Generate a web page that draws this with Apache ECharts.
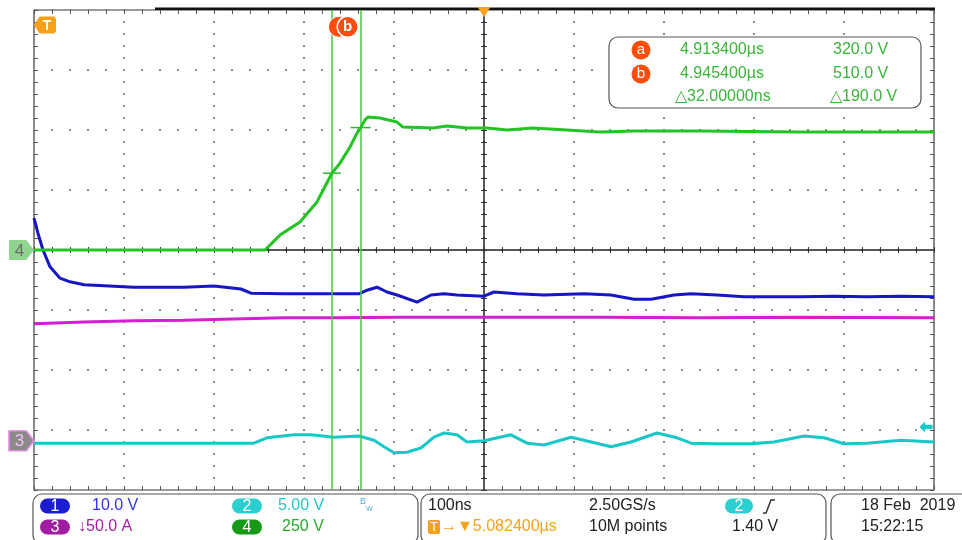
<!DOCTYPE html>
<html><head><meta charset="utf-8">
<script src="https://cdn.jsdelivr.net/npm/echarts@6/dist/echarts.min.js"></script>
<style>html,body{margin:0;padding:0;background:#fff}#c{width:962px;height:540px}</style>
</head><body><div id="c"></div>
<script>
// ---- acquisition settings ----
const centerTimeNs = 5082.4;          // time at screen centre
const cursorTimesNs = [4913.4, 4945.4];
const cursorVolts = [320.0, 510.0];
const ch4VoltsPerDiv = 250;
const ch3MarkerDiv = -3.18;
const ch2TrigLevelDiv = -2.95;
const channelLabels = ['1', '2', '3', '4'];
const channelScales = ['10.0 V', '5.00 V', '\u219350.0 A', '250 V'];
const timebaseText = ['100ns', '2.50GS/s', '\u2192\u25BC5.082400\u00B5s', '10M points', '1.40 V'];
const dateText = ['18 Feb  2019', '15:22:15'];

// ---- traces (time in ns relative to screen centre) ----
const ch4Times = [-500,-400,-300,-243.3,-226.7,-204.4,-185.6,-169,-160,-148.9,-141.1,-137,-132.2,-128.9,-115.6,-96.7,-90,-56.7,-41.1,-18.9,3.3,25.6,54.4,92.2,128.9,165.6,240,351.1,500];
const ch4Volts = [0,0,0,0,62,117,200,320,362,429,487,510,542,554,550,533,512,508,517,508,508,500,508,500,492,496,496,492,492];

const ch1Times = [-500,-495.6,-490,-482.2,-471.1,-460,-444.4,-388.9,-333.3,-300,-270,-258.9,-222.2,-166.7,-138.9,-130,-118.9,-107.8,-96.7,-74.4,-58.9,-44.4,-30,0,11.1,36.7,66.7,111.1,141.1,166.7,185.6,211.1,230,258.9,288.9,314.4,352.2,388.9,425.6,463.3,500];
const ch1Div = [0.53,0.28,0,-0.28,-0.47,-0.53,-0.58,-0.62,-0.62,-0.6,-0.65,-0.72,-0.73,-0.73,-0.73,-0.67,-0.62,-0.7,-0.75,-0.87,-0.75,-0.73,-0.75,-0.77,-0.7,-0.73,-0.75,-0.73,-0.75,-0.82,-0.82,-0.75,-0.73,-0.75,-0.78,-0.78,-0.78,-0.77,-0.78,-0.77,-0.78];

const ch2Times = [-500,-388.9,-277.8,-255.6,-241.1,-211.1,-192.2,-166.7,-138.9,-122.2,-111.1,-100,-85.6,-70,-55.6,-44.4,-30,-18.9,0,30,47.8,66.7,96.7,111.1,141.1,163.3,192.2,214.4,230,258.9,296.7,322.2,355.6,377.8,400,425.6,463.3,500];
const ch2Div = [-3.22,-3.22,-3.22,-3.22,-3.13,-3.08,-3.08,-3.12,-3.1,-3.17,-3.28,-3.38,-3.37,-3.3,-3.12,-3.05,-3.08,-3.2,-3.18,-3.08,-3.22,-3.25,-3.12,-3.17,-3.28,-3.2,-3.05,-3.13,-3.22,-3.23,-3.23,-3.2,-3.1,-3.13,-3.23,-3.22,-3.17,-3.2];

const ch3Times = [-500,-444.4,-388.9,-333.3,-277.8,-222.2,-166.7,-92.2,0,128.9,240,351.1,500];
const ch3Div = [-1.23,-1.2,-1.18,-1.17,-1.15,-1.13,-1.13,-1.12,-1.12,-1.12,-1.13,-1.12,-1.13];

const pairs = (ts, vs, f) => ts.map((t, i) => [t, f ? f(vs[i]) : vs[i]]);
const tA = cursorTimesNs[0] - centerTimeNs;
const tB = cursorTimesNs[1] - centerTimeNs;

const FONT = '"Liberation Sans", Arial, sans-serif';
const hidden = {axisLabel:{show:false}, splitLine:{show:false}};
const xBase = {type:'value', min:-500, max:500, ...hidden};
const yBase = {type:'value', min:-4, max:4, ...hidden};
const tickCol = '#555';

const xAxis = [
  {...xBase, interval:100, axisLine:{show:false, onZero:false}, axisTick:{show:false},
   splitLine:{show:true, lineStyle:{color:'#8e8e8e', width:2, type:[2,10], dashOffset:1}}},
  {...xBase, interval:20, axisLine:{show:true, onZero:true, onZeroAxisIndex:0, lineStyle:{color:'#222', width:1.5}},
   axisTick:{show:true, inside:true, length:3, lineStyle:{color:'#333'}}},
  {...xBase, interval:20, axisLine:{show:false, onZero:true, onZeroAxisIndex:0},
   axisTick:{show:true, inside:false, length:3, lineStyle:{color:'#333'}}},
  {...xBase, position:'top', interval:20, axisLine:{show:false, onZero:false},
   axisTick:{show:true, inside:true, length:4, lineStyle:{color:tickCol}}},
  {...xBase, position:'bottom', interval:20, axisLine:{show:false, onZero:false},
   axisTick:{show:true, inside:true, length:4, lineStyle:{color:tickCol}}}
];
const yAxis = [
  {...yBase, interval:1, axisLine:{show:false, onZero:false}, axisTick:{show:false},
   splitLine:{show:true, lineStyle:{color:'#8e8e8e', width:2, type:[2,16], dashOffset:1}}},
  {...yBase, interval:0.2, axisLine:{show:true, onZero:true, onZeroAxisIndex:0, lineStyle:{color:'#222', width:1.5}},
   axisTick:{show:true, inside:true, length:3, lineStyle:{color:'#333'}}},
  {...yBase, interval:0.2, axisLine:{show:false, onZero:true, onZeroAxisIndex:0},
   axisTick:{show:true, inside:false, length:3, lineStyle:{color:'#333'}}},
  {...yBase, position:'left', interval:0.2, axisLine:{show:false, onZero:false},
   axisTick:{show:true, inside:true, length:4, lineStyle:{color:tickCol}}},
  {...yBase, position:'right', interval:0.2, axisLine:{show:false, onZero:false},
   axisTick:{show:true, inside:true, length:4, lineStyle:{color:tickCol}}}
];

const C = {g:'#22c322', b:'#1616c4', m:'#d41ed4', c:'#18c8c8', o:'#f7a11a', r:'#ff4d0d', txtG:'#3ab53a'};

function trace(name, data, color, z, extra) {
  return Object.assign({name, type:'line', data, xAxisIndex:0, yAxisIndex:0, showSymbol:false,
    symbol:'none', z, lineStyle:{color, width:3}, itemStyle:{color}, silent:true}, extra || {});
}
const noLabel = {show:false};

const series = [
  trace('CH2', pairs(ch2Times, ch2Div), C.c, 2, {markPoint:{silent:true, data:[
    {coord:[500, ch2TrigLevelDiv], symbol:'path://M0,5 L6,0 L6,3 L14,3 L14,7 L6,7 L6,10 Z',
     symbolSize:[13,11], symbolOffset:[-8,0], itemStyle:{color:C.c}, label:noLabel}
  ]}}),
  trace('CH3', pairs(ch3Times, ch3Div), C.m, 3, {markPoint:{silent:true, data:[
    {coord:[-500, ch3MarkerDiv], symbol:'path://M0,0 L18,0 L26,10 L18,20 L0,20 Z', symbolSize:[25,20],
     symbolOffset:[-12.5,0], itemStyle:{color:'#8a8a8a', borderColor:'#e58ae5', borderWidth:1.5},
     label:{show:true, formatter:'3', color:'#f0c0f0', fontSize:17, fontFamily:FONT, offset:[-2,1]}}
  ]}}),
  trace('CH1', pairs(ch1Times, ch1Div), C.b, 4),
  trace('CH4', pairs(ch4Times, ch4Volts, v => v / ch4VoltsPerDiv), C.g, 5, {
    markLine:{silent:true, symbol:['none','none'], animation:false, label:noLabel,
      lineStyle:{color:'#45c845', width:1.5, type:'solid'},
      data:[{xAxis:tA}, {xAxis:tB}]},
    markPoint:{silent:true, animation:false, data:[
      {coord:[-500, 0], symbol:'path://M0,0 L18,0 L26,10 L18,20 L0,20 Z', symbolSize:[25,20],
       symbolOffset:[-12.5,0], itemStyle:{color:'#8fd48f'},
       label:{show:true, formatter:'4', color:'#6a6a6a', fontSize:17, fontFamily:FONT, offset:[-2,1]}},
      {coord:[-500, 3.75], symbol:'path://M0,8 L6,0 L22,0 L24,2 L24,14 L22,16 L6,16 Z', symbolSize:[22,17],
       symbolOffset:[11,0], itemStyle:{color:C.o},
       label:{show:true, formatter:'T', color:'#fff', fontSize:14, fontWeight:'bold', fontFamily:FONT, offset:[2,1]}},
      {coord:[0, 4], symbol:'triangle', symbolRotate:180, symbolSize:[13,10], symbolOffset:[0,2], itemStyle:{color:C.o}, label:noLabel},
      {coord:[tA, 320/ch4VoltsPerDiv], symbol:'rect', symbolSize:[18,1.5], itemStyle:{color:'#2fb82f'}, label:noLabel},
      {coord:[tB, cursorVolts[1]/ch4VoltsPerDiv], symbol:'rect', symbolSize:[20,1.5], itemStyle:{color:'#2fb82f'}, label:noLabel},
      {coord:[tA, 3.72], symbol:'circle', symbolSize:21, symbolOffset:[7,0],
       itemStyle:{color:C.r, borderColor:'#fff', borderWidth:1}, label:noLabel},
      {coord:[tB, 3.72], symbol:'circle', symbolSize:21, symbolOffset:[-13,0],
       itemStyle:{color:C.r, borderColor:'#fff', borderWidth:1.5},
       label:{show:true, formatter:'b', color:'#fff', fontSize:15, fontWeight:'bold', fontFamily:FONT}}
    ]}
  })
];

// ---- decorations ----
const txt = (x, y, text, fill, size, align) => ({type:'text', x, y, z:100, silent:true,
  style:{text, fill, font:(size||16)+'px ' + FONT, verticalAlign:'middle', align:align||'left'}});
const pill = (x, y, w, label, fill) => [
  {type:'rect', z:100, silent:true, shape:{x, y:y-7.5, width:w, height:15, r:7.5}, style:{fill}},
  txt(x + w/2, y + 0.5, label, '#fff', 16, 'center')
];
const box = (x, y, w, h) => ({type:'rect', z:99, silent:true, shape:{x, y, width:w, height:h, r:9},
  style:{fill:'#fff', stroke:'#555', lineWidth:1.2}});
const fmtT = ns => (ns/1000).toFixed(6) + '\u00B5s';

const graphic = [
  {type:'rect', z:1, silent:true, shape:{x:155, y:7.5, width:780, height:2.5}, style:{fill:'#111'}},
  // cursor readout
  box(609, 37, 312, 71),
  {type:'circle', z:100, silent:true, shape:{cx:641, cy:50, r:9.5}, style:{fill:C.r}},
  txt(641, 50, 'a', '#fff', 15, 'center'),
  {type:'circle', z:100, silent:true, shape:{cx:641, cy:74, r:9.5}, style:{fill:C.r}},
  txt(641, 74, 'b', '#fff', 15, 'center'),
  txt(680, 50, fmtT(cursorTimesNs[0]), C.txtG),
  txt(680, 74, fmtT(cursorTimesNs[1]), C.txtG),
  txt(675, 97, '\u25B3' + (cursorTimesNs[1]-cursorTimesNs[0]).toFixed(5) + 'ns', C.txtG),
  txt(833, 50, cursorVolts[0].toFixed(1) + ' V', C.txtG),
  txt(833, 74, cursorVolts[1].toFixed(1) + ' V', C.txtG),
  txt(830, 97, '\u25B3' + (cursorVolts[1]-cursorVolts[0]).toFixed(1) + ' V', C.txtG),
  // status bar
  box(33, 494, 385, 50), box(421, 494, 405, 50), box(831, 494, 150, 50),
  ...pill(40, 506, 30, channelLabels[0], '#1c1cd0'),
  txt(92, 506, channelScales[0], '#3434e0'),
  ...pill(232, 506, 30, channelLabels[1], '#2ad0d0'),
  txt(278, 506, channelScales[1], '#26c6c6'),
  txt(360, 502, 'B', '#58aee6', 9), txt(366, 509, 'W', '#58aee6', 7),
  ...pill(40, 527, 30, channelLabels[2], '#a01ca0'),
  txt(78, 527, channelScales[2], '#a322a3'),
  ...pill(232, 527, 30, channelLabels[3], '#169a16'),
  txt(282, 527, channelScales[3], '#2aa82a'),
  txt(428, 506, timebaseText[0], '#222'),
  txt(589, 506, timebaseText[1], '#222'),
  ...pill(725, 506, 28, '2', '#2ad0d0'),
  {type:'polyline', z:100, silent:true, shape:{points:[[763,513],[766,513],[771,500],[775,500]]},
   style:{stroke:'#333', lineWidth:1.5, fill:null}},
  {type:'rect', z:100, silent:true, shape:{x:428, y:520, width:12, height:14, r:2}, style:{fill:C.o}},
  txt(434, 527.5, 'T', '#fff', 13, 'center'),
  txt(441, 527, timebaseText[2], C.o),
  txt(589, 527, timebaseText[3], '#222'),
  txt(732, 527, timebaseText[4], '#222'),
  txt(861, 506, dateText[0], '#222'),
  txt(861, 527, dateText[1], '#222')
];

const chart = echarts.init(document.getElementById('c'), null, {renderer:'canvas'});
chart.setOption({
  animation:false,
  backgroundColor:'#fff',
  grid:{left:34, top:10, width:900, height:480, show:true, borderColor:'#3a3a3a', borderWidth:1.2, backgroundColor:'#fff'},
  xAxis, yAxis, series, graphic
});
</script></body></html>
